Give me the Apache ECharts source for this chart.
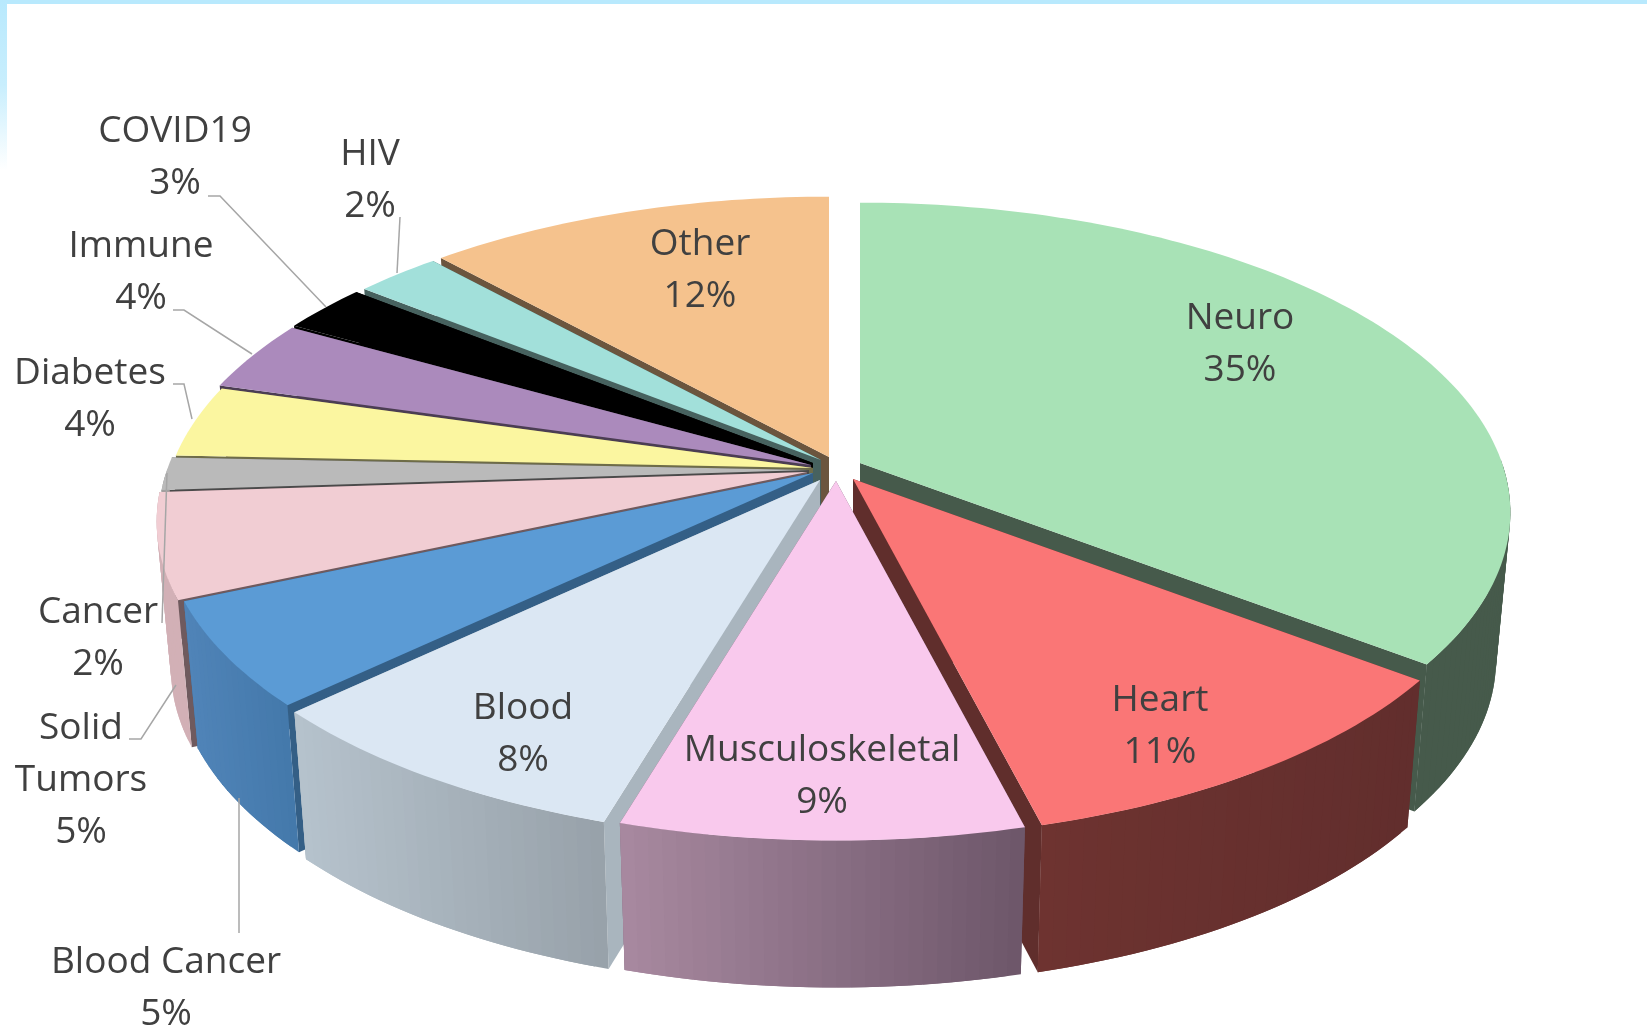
<!DOCTYPE html>
<html>
<head>
<meta charset="utf-8">
<style>html,body{margin:0;padding:0;background:#fff}#chart{width:1647px;height:1031px}</style>
<script src="https://cdn.jsdelivr.net/npm/echarts@6/dist/echarts.min.js"></script>
</head>
<body>
<div id="chart"></div>
<script>
// chart data, clockwise from 12 o'clock (labels show these rounded)
const categories = ['Neuro', 'Heart', 'Musculoskeletal', 'Blood', 'Blood Cancer', 'Solid\nTumors', 'Cancer', 'Diabetes', 'Immune', 'COVID19', 'HIV', 'Other'];
const shares = [35.3, 10.7, 8.6, 8.4, 5.49, 5.46, 1.72, 3.76, 3.72, 2.55, 2.49, 11.81];

// colours: top face, radial wall, outer wall left, outer wall right
const topColors = ['#a8e2b6', '#fa7676', '#f9c9ed', '#dbe7f3', '#5b9bd5', '#f1cdd3', '#bababa', '#fbf6a0', '#ab8abc', '#000000', '#a2e0da', '#f5c28d'];
const wallColors = ['#465a4b', '#602e2c', '#6e576a', '#a9b5be', '#345f86', '#6f5a5e', '#4a4a4a', '#6e6c48', '#4b3d53', '#000000', '#47625f', '#6b553e'];
const sideLeft = ['#465a4b', '#6e3330', '#a98aa1', '#b6c3cd', '#5084b8', '#d2b0b6', '#a0a0a0', '#b0ac70', '#77608a', '#000000', '#70a09b', '#6b553e'];
const sideRight = ['#465a4b', '#622e2d', '#6e576a', '#98a2aa', '#4479ab', '#d2b0b6', '#a0a0a0', '#b0ac70', '#77608a', '#000000', '#70a09b', '#6b553e'];

// layout: how far each slice is pulled from the centre, label centres, leader lines
const pull = [[22, -4], [15, 12], [-2, 14], [-18, 13], [-25, 6], [-31, 5], [-29, 3], [-25, 1], [-27, -2], [-25, -4], [-17, -7], [-9, -10]];
const labelAt = [[1240, 344], [1160, 726], [822, 776], [523, 734], [166, 988], [81, 780], [98, 638], [90, 399], [141, 272], [175, 157], [370, 180], [700, 270]];
const leaders = [null, null, null, null,
  [[239, 933], [239, 798]],
  [[129, 739], [141, 739], [176, 685]],
  [[162, 623], [167, 473]],
  [[173, 384], [184, 384], [192, 419]],
  [[173, 310], [184, 310], [252, 354]],
  [[208, 196], [220, 196], [326, 307]],
  [[400, 217], [397, 273]],
  null];

const CX = 838, CY = 467;   // centre of the top face
const RX = 642, RY = 302;   // disc radii before perspective
const PERSP = 0.16;         // front of the disc is nearer than the back
const DEPTH = 147, SHRINK = 0.978;  // extrusion of the bottom face

const total = shares.reduce((a, b) => a + b, 0);
const starts = [];
shares.reduce((sum, v, i) => { starts[i] = sum; return sum + v; }, 0);

function toAngle(v) { return v / total * Math.PI * 2; }

// top face point of slice i at angle a, r = 0..1
function topPoint(i, a, r) {
  const dx = Math.sin(a) * r, dy = -Math.cos(a) * r;
  const w = 1 - PERSP * dy;
  return [CX + pull[i][0] + RX * dx / w, CY + pull[i][1] + RY * dy / w];
}
function lowPoint(i, a, r) {
  const p = topPoint(i, a, r);
  const ax = CX + pull[i][0];
  return [ax + (p[0] - ax) * SHRINK, p[1] + DEPTH];
}

function arc(fn, i, a0, a1) {
  const n = Math.max(2, Math.ceil((a1 - a0) / 0.02));
  const pts = [];
  for (let k = 0; k <= n; k++) pts.push(fn(i, a0 + (a1 - a0) * k / n, 1));
  return pts;
}

function mix(c0, c1, t) {
  const ch = (c, s) => parseInt(c.substr(s, 2), 16);
  const part = s => Math.round(ch(c0, s) + (ch(c1, s) - ch(c0, s)) * t);
  return 'rgb(' + part(1) + ',' + part(3) + ',' + part(5) + ')';
}

// paint back slices first
const paintRank = [];
shares.map((v, i) => i)
  .sort((p, q) => -Math.cos(toAngle(starts[p] + shares[p] / 2)) - -Math.cos(toAngle(starts[q] + shares[q] / 2)))
  .forEach((idx, rank) => { paintRank[idx] = rank; });

function renderSlice(params, api) {
  const i = api.value(0);
  const a0 = toAngle(starts[i]);
  const a1 = a0 + toAngle(api.value(1));
  const base = paintRank[i] * 10 + 1;
  const children = [];
  const top = arc(topPoint, i, a0, a1);
  const low = arc(lowPoint, i, a0, a1);
  const hubTop = topPoint(i, 0, 0), hubLow = lowPoint(i, 0, 0);
  const last = top.length - 1;

  children.push({ type: 'polygon', z2: base, shape: { points: [hubTop, top[0], low[0], hubLow] }, style: { fill: wallColors[i] } });
  children.push({ type: 'polygon', z2: base, shape: { points: [hubTop, top[last], low[last], hubLow] }, style: { fill: wallColors[i] } });

  // outer wall as a band of overlapping quads, shaded left to right, back-facing part skipped
  const xMin = Math.min.apply(null, top.map(p => p[0])), xMax = Math.max.apply(null, top.map(p => p[0]));
  for (let k = 0; k < last; k++) {
    const next = Math.min(k + 2, last);
    if (top[k][1] + top[next][1] < 2 * (CY + pull[i][1])) continue;
    children.push({
      type: 'polygon', z2: base + 1,
      shape: { points: [top[k], top[next], low[next], low[k]] },
      style: { fill: mix(sideLeft[i], sideRight[i], (top[k][0] - xMin) / (xMax - xMin)) }
    });
  }
  children.push({ type: 'polygon', z2: base + 2, shape: { points: [hubTop].concat(top) }, style: { fill: topColors[i] } });

  if (leaders[i]) {
    children.push({ type: 'polyline', z2: 900, shape: { points: leaders[i] }, style: { fill: null, stroke: '#a6a6a6', lineWidth: 1.5 } });
  }
  children.push({
    type: 'text', z2: 1000,
    style: {
      text: categories[i] + '\n' + Math.round(shares[i] / total * 100) + '%',
      x: labelAt[i][0], y: labelAt[i][1],
      align: 'center', verticalAlign: 'middle',
      fontFamily: 'Open Sans', fontSize: 37, lineHeight: 52, fill: '#404040'
    }
  });
  return { type: 'group', children: children };
}

const chart = echarts.init(document.getElementById('chart'), null, { renderer: 'canvas' });
chart.setOption({
  animation: false,
  backgroundColor: '#ffffff',
  graphic: [
    { type: 'rect', left: 0, top: 0, shape: { width: 1647, height: 4 }, style: { fill: '#b8e9fd' } },
    {
      type: 'rect', left: 0, top: 0, shape: { width: 7, height: 170 },
      style: { fill: new echarts.graphic.LinearGradient(0, 0, 0, 1, [{ offset: 0, color: '#b8e9fd' }, { offset: 0.5, color: '#c8eefd' }, { offset: 1, color: '#ffffff' }]) }
    }
  ],
  series: [{
    type: 'custom',
    coordinateSystem: 'none',
    renderItem: renderSlice,
    data: shares.map((v, i) => [i, v])
  }]
});
</script>
</body>
</html>
